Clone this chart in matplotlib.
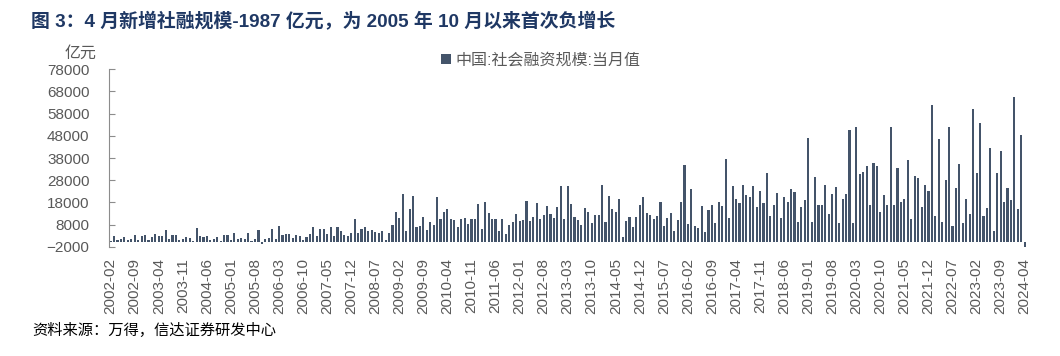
import matplotlib
matplotlib.use("Agg")
import matplotlib.pyplot as plt

# 中国:社会融资规模:当月值 (亿元), 2002-02 .. 2024-04
y2002 = [400, 2900, 1000, 1400, 2300, 800, 1400, 3300, 800, 2900, 3200]
y2003 = [1000, 2600, 3800, 2900, 2900, 5600, 1400, 3200, 3500, 1000, 1700, 2300]
y2004 = [1800, 500, 6300, 2900, 2600, 2900, 800, 1400, 2600, 500, 3200, 3200]
y2005 = [800, 4000, 1700, 1900, 1700, 4400, 500, 1700, 5600, -700, 1700, 2000]
y2006 = [5900, 1400, 7400, 3200, 3600, 3600, 2000, 3200, 3000, 800, 2600, 3600]
y2007 = [6800, 2900, 5900, 5900, 3800, 6800, 2900, 6800, 5100, 3500, 2900, 4000]
y2008 = [10500, 4000, 5900, 6800, 5300, 5600, 4600, 4400, 5300, 1000, 4400, 7800]
y2009 = [13700, 11000, 21800, 5100, 14900, 20900, 7100, 7400, 11600, 5600, 9300, 7800]
y2010 = [20300, 10500, 13700, 14900, 10500, 9900, 6900, 10400, 11000, 8300, 10400, 10400]
y2011 = [17300, 6000, 18000, 13400, 10400, 10400, 5100, 10400, 3900, 7700, 9300, 12600]
y2012 = [9800, 10100, 18500, 9500, 11300, 17700, 10400, 12200, 16200, 12800, 11000, 16100]
y2013 = [25400, 10500, 25400, 17400, 11600, 10100, 7800, 15600, 13800, 8600, 12200, 12200]
y2014 = [25900, 9200, 20900, 15000, 13800, 19400, 2400, 9500, 11300, 6800, 11300, 16800]
y2015 = [20300, 13400, 12300, 10400, 12000, 18200, 7200, 10800, 13200, 5300, 10100, 18000]
y2016 = [34700, 8100, 23800, 7500, 6500, 16200, 4500, 14400, 16800, 8700, 18200, 16400]
y2017 = [37600, 10800, 25400, 19400, 17600, 25700, 21100, 20500, 25400, 15800, 22900, 17900]
y2018 = [31300, 11900, 16800, 22100, 11000, 20300, 18200, 23900, 22700, 9300, 15900, 18900]
y2019 = [46800, 9300, 29500, 16700, 16800, 26000, 12800, 21800, 25000, 8600, 19700, 21800]
y2020 = [50500, 8600, 51900, 30800, 31700, 34400, 16800, 35600, 34400, 13700, 21200, 16800]
y2021 = [51900, 17000, 33700, 18200, 19400, 37000, 10500, 29800, 29000, 16100, 25700, 23300]
y2022 = [61800, 11900, 46500, 9000, 28300, 51900, 7500, 24500, 35200, 8900, 19700, 12900]
y2023 = [60000, 31400, 53800, 12000, 15300, 42300, 5100, 31300, 41200, 18200, 24400, 19100]
y2024 = [65400, 15000, 48600, -1987]

values = (y2002 + y2003 + y2004 + y2005 + y2006 + y2007 + y2008 + y2009 + y2010
          + y2011 + y2012 + y2013 + y2014 + y2015 + y2016 + y2017 + y2018 + y2019
          + y2020 + y2021 + y2022 + y2023 + y2024)

months = []
for i in range(len(values)):
    m = 1 + i  # 2002-02 is index 0
    year = 2002 + m // 12
    months.append(f"{year}-{m % 12 + 1:02d}")

fonts = ["Liberation Sans", "Noto Sans CJK SC"]
plt.rcParams["font.family"] = fonts

fig = plt.figure(figsize=(10.6, 3.56), dpi=100)
ax = fig.add_axes([0.1028, 0.307, 0.8655, 0.4983])

x = list(range(len(values)))
ax.bar(x, values, width=0.62, color="#44546A", label="中国:社会融资规模:当月值")

ax.set_xlim(-0.5, len(values) - 0.5)
ax.set_ylim(-2000, 78000)
ax.set_yticks(range(-2000, 78001, 10000))
ax.set_xticks(x[::7])
ax.set_xticklabels(months[::7], rotation=90, fontsize=11, color="#595959")
ax.tick_params(axis="x", length=0, pad=8)
ax.tick_params(axis="y", direction="in", length=4, width=0.8, color="#8C8C8C",
               labelsize=11, labelcolor="#595959", pad=14)

for side in ["top", "right", "bottom"]:
    ax.spines[side].set_visible(False)
ax.spines["left"].set_color("#8C8C8C")
ax.spines["left"].set_linewidth(0.8)

ax.legend(loc="upper left", bbox_to_anchor=(0.355, 1.13), frameon=False,
          fontsize=11.5, labelcolor="#595959", handlelength=0.6, handleheight=0.6,
          handletextpad=0.3, borderaxespad=0)

fig.text(0.0292, 0.939, "图 3：4 月新增社融规模-1987 亿元，为 2005 年 10 月以来首次负增长",
         fontsize=13.6, fontweight="bold", color="#1F3864", va="center", ha="left")
fig.text(0.0764, 0.851, "亿元", fontsize=11.5, color="#595959", va="center", ha="center")
fig.text(0.0302, 0.073, "资料来源：万得，信达证券研发中心", fontsize=11, color="#000000",
         va="center", ha="left")

fig.savefig("out.png", dpi=100)
